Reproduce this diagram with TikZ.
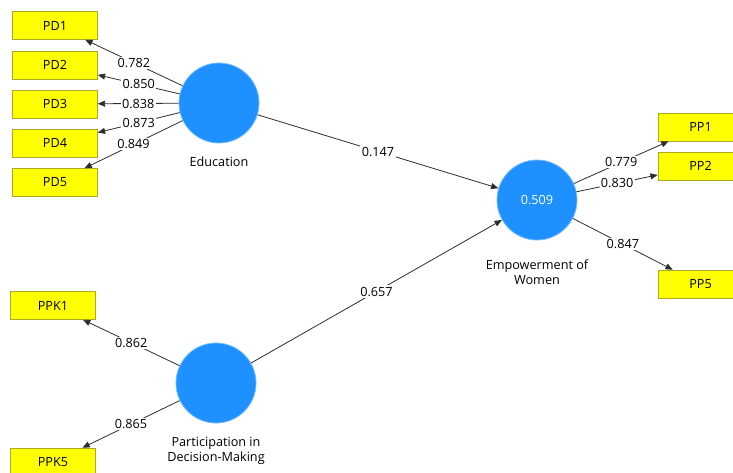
\documentclass[tikz,border=0pt]{standalone}
\usepackage{fontspec}
\setmainfont{Open Sans}
\usepackage{tikz}
\usetikzlibrary{shapes.geometric,arrows.meta,positioning,calc}
\definecolor{lvblue}{RGB}{30,144,255}
\definecolor{lvedge}{RGB}{115,188,255}
\definecolor{mvyellow}{RGB}{255,255,0}
\definecolor{mvedge}{RGB}{170,170,40}
\definecolor{pathgray}{RGB}{45,45,45}

\begin{document}
\begin{tikzpicture}[>={Triangle[length=5.5pt,width=4.5pt]}, x=0.75pt, y=-0.75pt]
        \tikzset{
            latent/.style={circle, draw=lvedge, fill=lvblue, line width=0.6pt, minimum size=60pt, inner sep=0pt, text=white, font=\fontsize{9.5}{11}\selectfont},
            indicator/.style={draw=mvedge, fill=mvyellow, rectangle, minimum width=63.75pt, minimum height=21pt, inner sep=0pt, font=\fontsize{9.5}{11}\selectfont},
            caption/.style={align=center, font=\fontsize{9.5}{11.25}\selectfont, inner sep=0pt},
            io/.style={fill=white, inner sep=1pt, font=\fontsize{9.5}{11}\selectfont},
            line/.style={draw=pathgray, ->, line width=0.6pt}
        }
        \useasboundingbox (0,0) rectangle (733,472);

        % Latent variables
        \node[latent] (edu) at (219,103) {};
        \node[latent] (emp) at (537,200) {0.509};
        \node[latent] (ppk) at (216,383) {};
        \node[caption, below=10pt of edu] (edulbl) {Education};
        \node[caption, below=14pt of emp] (emplbl) {Empowerment of\\Women};
        \node[caption, below=10pt of ppk] (ppklbl) {Participation in\\Decision-Making};

        % Indicators of Education (left, top)
        \node[indicator] (PD1) at (55,25.5) {PD1};
        \node[indicator] (PD2) at (55,65) {PD2};
        \node[indicator] (PD3) at (55,104) {PD3};
        \node[indicator] (PD4) at (55,143) {PD4};
        \node[indicator] (PD5) at (55,182.5) {PD5};

        % Indicators of Participation (left, bottom)
        \node[indicator] (PPK1) at (53,305.5) {PPK1};
        \node[indicator] (PPK5) at (53,462) {PPK5};

        % Indicators of Empowerment (right)
        \node[indicator] (PP1) at (700.5,127) {PP1};
        \node[indicator] (PP2) at (700.5,166) {PP2};
        \node[indicator] (PP5) at (700.5,284) {PP5};

        % Outer loadings
        \path[line] (edu) -- node[io] {0.782} (PD1);
        \path[line] (edu) -- node[io] {0.850} (PD2);
        \path[line] (edu) -- node[io] {0.838} (PD3);
        \path[line] (edu) -- node[io] {0.873} (PD4);
        \path[line] (edu) -- node[io] {0.849} (PD5);
        \path[line] (ppk) -- node[io] {0.862} (PPK1);
        \path[line] (ppk) -- node[io] {0.865} (PPK5);
        \path[line] (emp) -- node[io] {0.779} (PP1);
        \path[line] (emp) -- node[io] {0.830} (PP2);
        \path[line] (emp) -- node[io] {0.847} (PP5);

        % Path coefficients
        \path[line] (edu) -- node[io] {0.147} (emp);
        \path[line] (ppk) -- node[io] {0.657} (emp);

    \end{tikzpicture}
\end{document}
